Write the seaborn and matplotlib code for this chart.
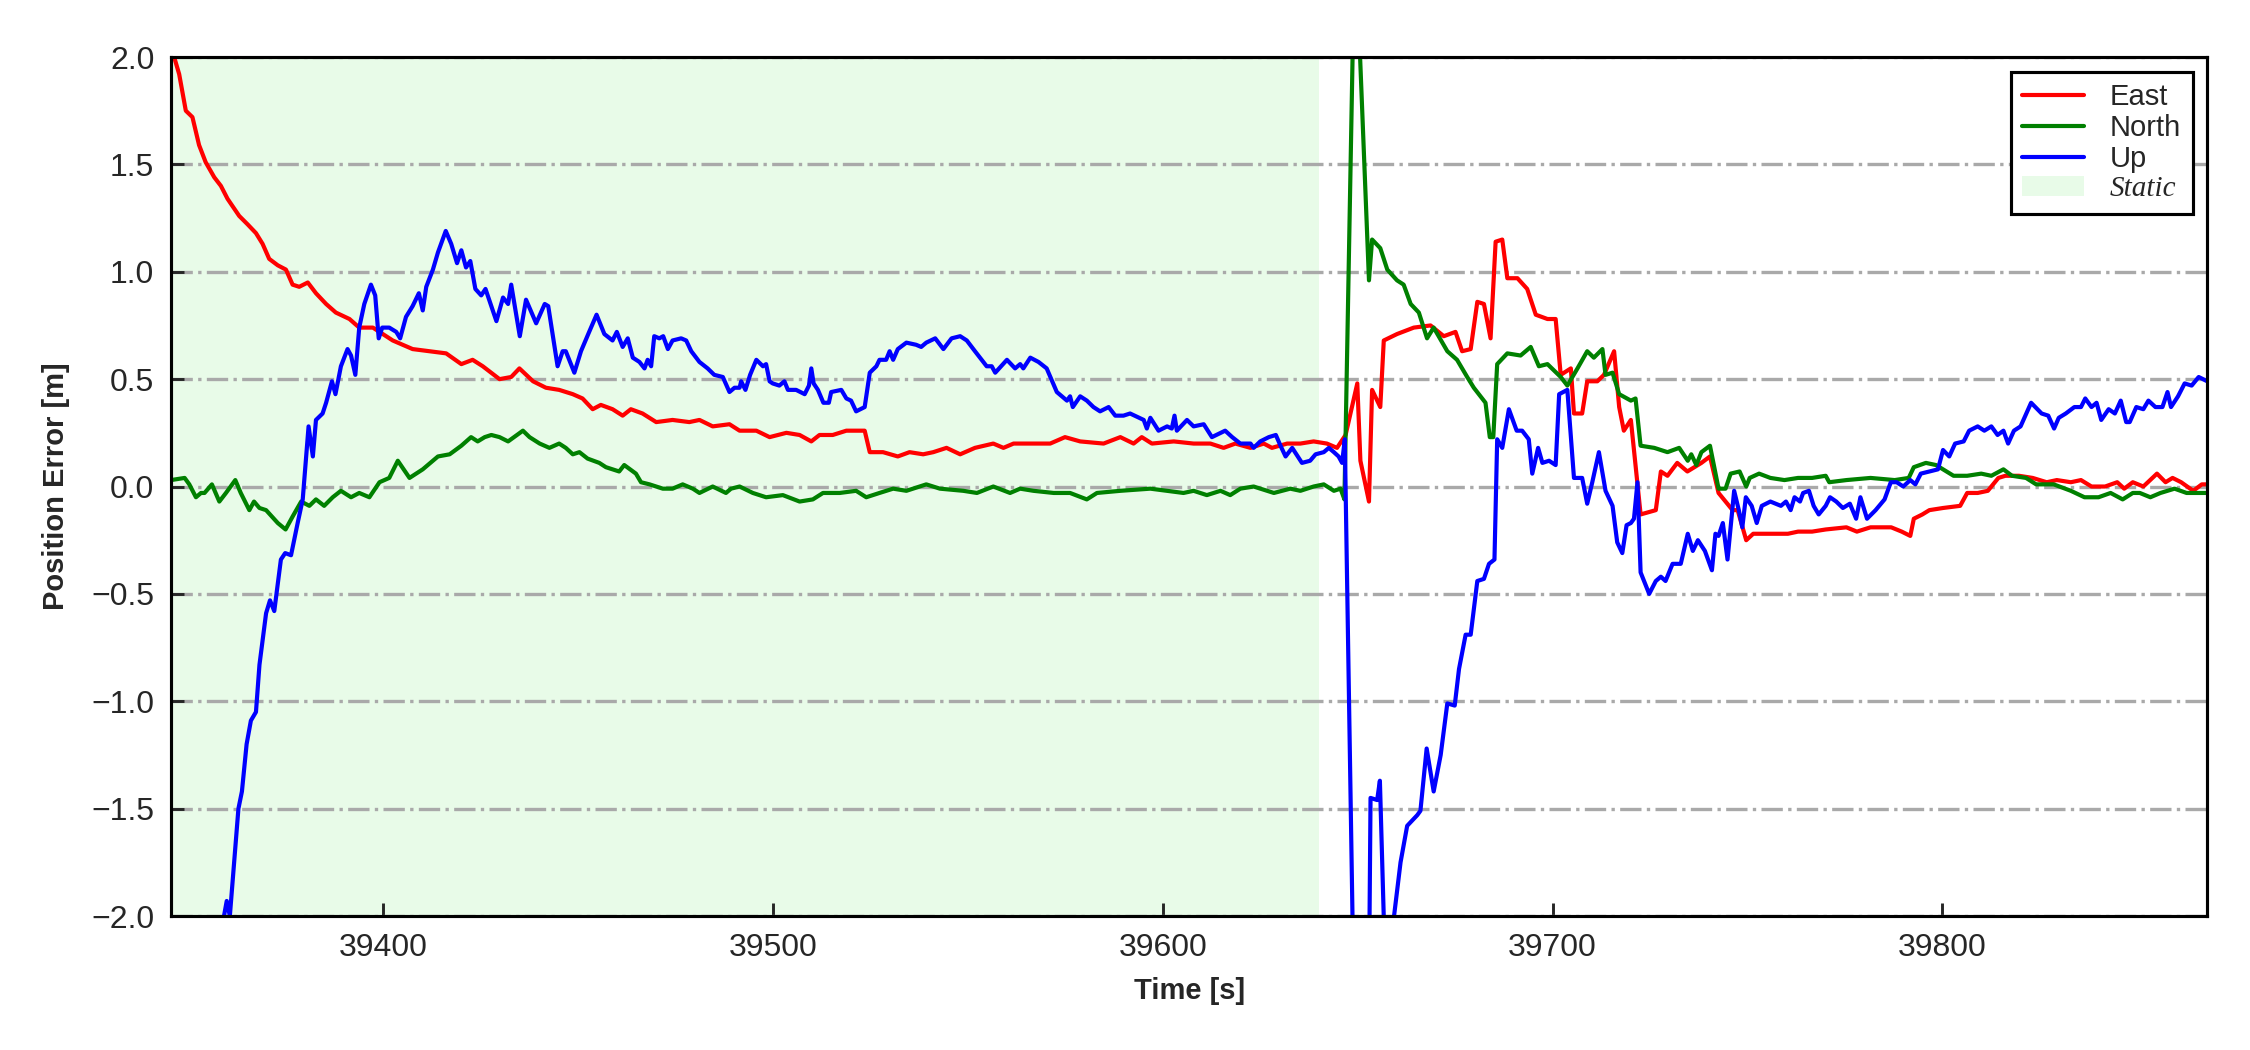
import matplotlib
matplotlib.use("Agg")
import matplotlib.pyplot as plt
import seaborn as sns
import pandas as pd

# East error
east_t = [39345.5, 39347.6, 39349.3, 39351.0, 39352.7, 39354.4, 39356.6, 39358.3, 39360.0, 39363.0,
          39365.2, 39367.3, 39369.0, 39370.7, 39372.9, 39375.0, 39376.7, 39378.4, 39380.6, 39382.7,
          39385.3, 39387.8, 39391.3, 39393.8, 39397.3, 39402.4, 39407.5, 39411.8, 39416.1, 39420.0,
          39422.9, 39425.5, 39429.8, 39432.8, 39434.9, 39438.4, 39441.7, 39445.1, 39448.6, 39451.1,
          39453.7, 39455.8, 39458.8, 39461.4, 39463.5, 39466.5, 39470.0, 39474.2, 39478.5, 39481.1,
          39484.5, 39488.8, 39491.4, 39495.7, 39499.1, 39503.4, 39506.8, 39509.8, 39511.9, 39515.3,
          39518.8, 39523.5, 39524.8, 39528.2, 39532.0, 39535.0, 39538.5, 39541.1, 39544.5, 39548.0,
          39551.8, 39556.5, 39559.1, 39561.7, 39566.8, 39571.1, 39574.9, 39578.8, 39584.8, 39589.1,
          39592.5, 39594.6, 39597.2, 39602.8, 39607.9, 39612.2, 39615.6, 39618.6, 39622.5, 39625.9,
          39628.0, 39631.9, 39635.3, 39638.7, 39642.1, 39644.7, 39646.9, 39649.9, 39650.7, 39652.9,
          39653.7, 39655.8, 39656.7, 39660.1, 39664.4, 39668.7, 39672.1, 39675.1, 39676.8, 39679.0,
          39680.7, 39682.4, 39684.1, 39685.4, 39687.1, 39688.4, 39691.0, 39693.5, 39695.7, 39698.7,
          39700.8, 39702.1, 39704.7, 39705.5, 39707.6, 39708.9, 39711.5, 39713.2, 39715.8, 39717.1,
          39718.3, 39720.1, 39722.6, 39726.5, 39727.8, 39729.5, 39732.0, 39734.6, 39738.2, 39740.4,
          39742.6, 39746.2, 39747.5, 39749.7, 39751.5, 39756.8, 39760.4, 39763.0, 39766.6, 39770.1,
          39775.4, 39778.1, 39781.6, 39786.9, 39789.6, 39791.8, 39792.7, 39794.9, 39796.7, 39800.2,
          39804.6, 39806.4, 39809.1, 39811.7, 39814.4, 39816.2, 39819.7, 39823.2, 39826.8, 39829.4,
          39833.0, 39835.6, 39838.3, 39841.8, 39844.9, 39846.7, 39848.9, 39851.6, 39855.1, 39857.3,
          39859.1, 39861.3, 39864.4, 39866.6, 39868.0]
east_v = [2.05, 1.92, 1.75, 1.72, 1.59, 1.51, 1.44, 1.40, 1.34, 1.26,
          1.22, 1.18, 1.13, 1.06, 1.03, 1.01, 0.94, 0.93, 0.95, 0.90,
          0.85, 0.81, 0.78, 0.74, 0.74, 0.68, 0.64, 0.63, 0.62, 0.57,
          0.59, 0.56, 0.50, 0.51, 0.55, 0.49, 0.46, 0.45, 0.43, 0.41,
          0.36, 0.38, 0.36, 0.33, 0.36, 0.34, 0.30, 0.31, 0.30, 0.31,
          0.28, 0.29, 0.26, 0.26, 0.23, 0.25, 0.24, 0.21, 0.24, 0.24,
          0.26, 0.26, 0.16, 0.16, 0.14, 0.16, 0.15, 0.16, 0.18, 0.15,
          0.18, 0.20, 0.18, 0.20, 0.20, 0.20, 0.23, 0.21, 0.20, 0.23,
          0.20, 0.23, 0.20, 0.21, 0.20, 0.20, 0.18, 0.20, 0.18, 0.20,
          0.18, 0.20, 0.20, 0.21, 0.20, 0.18, 0.24, 0.48, 0.12, -0.07,
          0.45, 0.37, 0.68, 0.71, 0.74, 0.75, 0.70, 0.72, 0.63, 0.64,
          0.86, 0.85, 0.69, 1.14, 1.15, 0.97, 0.97, 0.92, 0.80, 0.78,
          0.78, 0.52, 0.55, 0.34, 0.34, 0.49, 0.49, 0.52, 0.63, 0.37,
          0.26, 0.31, -0.13, -0.11, 0.07, 0.05, 0.11, 0.07, 0.11, 0.14,
          -0.03, -0.11, -0.11, -0.25, -0.22, -0.22, -0.22, -0.21, -0.21, -0.20,
          -0.19, -0.21, -0.19, -0.19, -0.21, -0.23, -0.15, -0.13, -0.11, -0.10,
          -0.09, -0.03, -0.03, -0.02, 0.04, 0.05, 0.05, 0.04, 0.02, 0.03,
          0.02, 0.03, 0.00, 0.00, 0.02, -0.01, 0.02, 0.00, 0.06, 0.02,
          0.04, 0.02, -0.02, 0.01, 0.01]

# North error
north_t = [39345.5, 39349.0, 39350.2, 39351.9, 39353.2, 39354.1, 39356.0, 39357.9, 39359.6, 39362.0,
           39363.4, 39365.6, 39366.8, 39368.2, 39369.9, 39372.9, 39374.9, 39376.7, 39378.9, 39381.0,
           39382.7, 39384.8, 39387.0, 39389.1, 39391.7, 39393.8, 39396.4, 39399.0, 39401.5, 39403.7,
           39406.7, 39410.1, 39414.0, 39417.0, 39420.0, 39422.5, 39424.2, 39426.0, 39427.7, 39429.8,
           39432.0, 39435.8, 39437.5, 39440.1, 39442.6, 39445.1, 39446.8, 39448.6, 39450.3, 39452.4,
           39455.4, 39457.1, 39460.5, 39461.8, 39464.8, 39466.1, 39468.3, 39471.7, 39474.2, 39476.8,
           39479.4, 39481.1, 39484.5, 39487.9, 39489.2, 39491.4, 39494.8, 39498.2, 39502.5, 39506.8,
           39510.2, 39512.8, 39517.1, 39521.3, 39523.9, 39527.3, 39530.8, 39534.2, 39539.3, 39542.8,
           39548.8, 39552.3, 39556.5, 39560.8, 39563.4, 39566.8, 39572.0, 39576.2, 39580.5, 39583.1,
           39589.1, 39596.8, 39601.1, 39605.3, 39607.9, 39611.3, 39614.8, 39617.3, 39619.9, 39623.3,
           39628.5, 39632.7, 39635.3, 39638.7, 39641.3, 39643.9, 39645.6, 39646.6, 39649.3, 39652.9,
           39653.7, 39655.8, 39657.6, 39660.1, 39661.8, 39663.6, 39665.7, 39667.8, 39669.5, 39673.0,
           39675.5, 39678.1, 39679.8, 39682.8, 39683.9, 39684.8, 39685.8, 39688.4, 39691.8, 39694.4,
           39696.5, 39698.7, 39702.1, 39703.8, 39706.4, 39708.9, 39710.6, 39712.8, 39713.6, 39715.4,
           39717.1, 39720.1, 39721.3, 39722.6, 39726.1, 39729.5, 39732.5, 39734.7, 39735.6, 39736.9,
           39738.2, 39740.4, 39742.6, 39744.4, 39745.7, 39748.0, 39749.7, 39750.6, 39753.0, 39755.9,
           39759.5, 39763.0, 39766.6, 39770.1, 39771.0, 39775.4, 39781.6, 39787.8, 39791.4, 39792.7,
           39795.8, 39798.4, 39801.1, 39802.9, 39806.4, 39810.0, 39812.6, 39815.7, 39817.9, 39821.5,
           39824.1, 39828.6, 39833.0, 39836.5, 39840.1, 39843.2, 39846.3, 39848.9, 39850.7, 39853.4,
           39856.0, 39859.6, 39862.7, 39864.9, 39868.0]
north_v = [0.03, 0.04, 0.01, -0.05, -0.03, -0.03, 0.01, -0.07, -0.03, 0.03,
           -0.03, -0.11, -0.07, -0.10, -0.11, -0.17, -0.20, -0.14, -0.07, -0.09,
           -0.06, -0.09, -0.05, -0.02, -0.05, -0.03, -0.05, 0.02, 0.04, 0.12,
           0.04, 0.08, 0.14, 0.15, 0.19, 0.23, 0.21, 0.23, 0.24, 0.23,
           0.21, 0.26, 0.23, 0.20, 0.18, 0.20, 0.18, 0.15, 0.16, 0.13,
           0.11, 0.09, 0.07, 0.10, 0.06, 0.02, 0.01, -0.01, -0.01, 0.01,
           -0.01, -0.03, 0.00, -0.03, -0.01, 0.00, -0.03, -0.05, -0.04, -0.07,
           -0.06, -0.03, -0.03, -0.02, -0.05, -0.03, -0.01, -0.02, 0.01, -0.01,
           -0.02, -0.03, 0.00, -0.03, -0.01, -0.02, -0.03, -0.03, -0.06, -0.03,
           -0.02, -0.01, -0.02, -0.03, -0.02, -0.04, -0.02, -0.04, -0.01, 0.00,
           -0.03, -0.01, -0.02, 0.00, 0.01, -0.02, -0.01, -0.06, 2.60, 0.96,
           1.15, 1.11, 1.01, 0.96, 0.94, 0.85, 0.81, 0.69, 0.74, 0.63,
           0.59, 0.51, 0.46, 0.39, 0.23, 0.23, 0.57, 0.62, 0.61, 0.65,
           0.56, 0.57, 0.51, 0.47, 0.55, 0.63, 0.60, 0.64, 0.52, 0.53,
           0.43, 0.40, 0.41, 0.19, 0.18, 0.16, 0.18, 0.12, 0.15, 0.10,
           0.16, 0.19, -0.01, -0.01, 0.06, 0.07, 0.00, 0.04, 0.06, 0.04,
           0.03, 0.04, 0.04, 0.05, 0.02, 0.03, 0.04, 0.03, 0.04, 0.09,
           0.11, 0.10, 0.07, 0.05, 0.05, 0.06, 0.05, 0.08, 0.05, 0.04,
           0.01, 0.01, -0.02, -0.05, -0.05, -0.03, -0.06, -0.03, -0.03, -0.05,
           -0.03, -0.01, -0.03, -0.03, -0.03]

# Up error
up_t = [39345.5, 39353.0, 39357.5, 39358.7, 39359.8, 39360.6, 39361.7, 39362.8, 39363.7, 39364.9,
        39366.0, 39367.3, 39368.2, 39369.9, 39370.9, 39372.0, 39373.7, 39374.8, 39376.3, 39378.0,
        39379.3, 39380.8, 39381.9, 39382.7, 39384.4, 39385.3, 39386.8, 39387.7, 39389.1, 39390.8,
        39391.7, 39392.8, 39393.8, 39395.1, 39396.8, 39397.9, 39398.8, 39399.7, 39401.5, 39403.3,
        39404.3, 39405.8, 39407.5, 39409.1, 39410.1, 39411.0, 39412.7, 39414.0, 39416.0, 39417.4,
        39418.9, 39420.0, 39421.2, 39422.3, 39423.6, 39425.1, 39426.2, 39427.7, 39429.0, 39430.7,
        39432.0, 39432.8, 39435.0, 39436.6, 39439.2, 39441.4, 39442.3, 39444.7, 39446.0, 39446.8,
        39449.0, 39450.7, 39452.8, 39454.7, 39456.7, 39458.8, 39459.9, 39461.4, 39462.7, 39464.0,
        39465.7, 39467.0, 39467.8, 39468.7, 39469.5, 39470.8, 39471.8, 39473.0, 39474.2, 39476.4,
        39477.7, 39479.0, 39481.1, 39483.2, 39484.9, 39487.1, 39488.8, 39490.1, 39491.4, 39491.8,
        39492.9, 39494.1, 39495.7, 39497.4, 39498.2, 39499.1, 39499.9, 39501.6, 39502.9, 39503.8,
        39505.9, 39508.1, 39509.2, 39509.8, 39510.4, 39511.5, 39512.9, 39514.3, 39514.9, 39517.5,
        39518.8, 39520.0, 39521.3, 39523.5, 39524.8, 39526.5, 39527.3, 39529.0, 39529.9, 39530.8,
        39532.0, 39534.2, 39536.7, 39538.0, 39539.3, 39541.6, 39543.7, 39545.8, 39548.0, 39549.7,
        39551.8, 39554.8, 39556.1, 39557.0, 39560.0, 39562.1, 39563.4, 39564.2, 39566.0, 39568.1,
        39570.2, 39572.8, 39575.4, 39576.2, 39576.9, 39578.8, 39580.5, 39582.2, 39583.9, 39586.1,
        39587.8, 39589.9, 39591.6, 39595.1, 39595.9, 39596.8, 39598.9, 39601.1, 39602.3, 39603.0,
        39603.6, 39606.2, 39607.9, 39610.5, 39612.6, 39616.0, 39617.8, 39619.9, 39622.5, 39623.3,
        39625.0, 39627.2, 39629.0, 39630.2, 39631.5, 39633.2, 39635.7, 39637.8, 39639.2, 39641.3,
        39642.6, 39643.9, 39645.1, 39646.0, 39646.7, 39650.0, 39652.5, 39653.3, 39655.0, 39655.7,
        39657.0, 39658.0, 39661.0, 39662.7, 39665.3, 39666.1, 39667.7, 39669.5, 39671.3, 39673.0,
        39674.9, 39676.0, 39677.7, 39679.0, 39680.7, 39682.4, 39683.7, 39685.1, 39685.8, 39687.1,
        39688.8, 39690.8, 39692.2, 39693.9, 39694.8, 39696.3, 39697.4, 39699.1, 39700.8, 39701.7,
        39703.8, 39705.5, 39707.6, 39708.9, 39710.2, 39711.9, 39713.6, 39715.4, 39716.6, 39717.9,
        39719.0, 39720.1, 39720.9, 39721.8, 39722.6, 39724.8, 39726.5, 39727.8, 39729.0, 39730.8,
        39732.9, 39734.7, 39736.0, 39737.3, 39739.1, 39740.9, 39741.8, 39742.6, 39743.7, 39744.9,
        39746.6, 39747.8, 39748.7, 39749.6, 39751.1, 39752.4, 39753.7, 39755.9, 39758.6, 39759.9,
        39761.1, 39762.1, 39763.5, 39764.3, 39765.8, 39767.0, 39768.3, 39770.1, 39771.2, 39772.8,
        39774.5, 39776.3, 39777.9, 39779.0, 39780.7, 39782.9, 39785.2, 39786.8, 39788.3, 39790.0,
        39791.8, 39793.1, 39794.5, 39796.7, 39798.9, 39800.2, 39801.8, 39803.3, 39805.5, 39806.9,
        39809.1, 39810.8, 39812.6, 39814.2, 39815.7, 39816.9, 39818.4, 39820.1, 39822.8, 39825.5,
        39827.2, 39828.7, 39829.9, 39831.7, 39833.9, 39835.6, 39836.7, 39838.3, 39839.6, 39840.8,
        39842.7, 39844.3, 39845.8, 39847.2, 39848.1, 39849.8, 39851.6, 39852.9, 39854.7, 39856.5,
        39857.8, 39858.7, 39860.5, 39862.2, 39864.0, 39865.8, 39868.0]
up_v = [-3.20, -2.60, -2.15, -2.04, -1.93, -2.00, -1.75, -1.50, -1.42, -1.20,
        -1.09, -1.05, -0.83, -0.59, -0.53, -0.58, -0.34, -0.31, -0.32, -0.17,
        -0.06, 0.28, 0.14, 0.31, 0.34, 0.39, 0.49, 0.43, 0.56, 0.64,
        0.61, 0.52, 0.74, 0.85, 0.94, 0.89, 0.69, 0.74, 0.74, 0.72,
        0.69, 0.79, 0.84, 0.90, 0.82, 0.93, 1.01, 1.09, 1.19, 1.13,
        1.04, 1.10, 1.02, 1.05, 0.92, 0.89, 0.92, 0.84, 0.77, 0.88,
        0.85, 0.94, 0.70, 0.87, 0.76, 0.85, 0.84, 0.56, 0.63, 0.63,
        0.53, 0.63, 0.72, 0.80, 0.71, 0.68, 0.72, 0.65, 0.69, 0.60,
        0.58, 0.55, 0.59, 0.56, 0.70, 0.69, 0.70, 0.64, 0.68, 0.69,
        0.68, 0.63, 0.58, 0.55, 0.52, 0.51, 0.44, 0.46, 0.46, 0.49,
        0.45, 0.52, 0.59, 0.56, 0.57, 0.49, 0.48, 0.47, 0.49, 0.45,
        0.45, 0.43, 0.47, 0.55, 0.48, 0.45, 0.39, 0.39, 0.44, 0.45,
        0.41, 0.40, 0.35, 0.37, 0.53, 0.56, 0.59, 0.59, 0.63, 0.59,
        0.64, 0.67, 0.66, 0.65, 0.67, 0.69, 0.64, 0.69, 0.70, 0.68,
        0.63, 0.56, 0.56, 0.53, 0.59, 0.55, 0.57, 0.55, 0.60, 0.58,
        0.55, 0.44, 0.40, 0.42, 0.37, 0.42, 0.40, 0.37, 0.35, 0.37,
        0.33, 0.33, 0.34, 0.31, 0.27, 0.32, 0.26, 0.28, 0.27, 0.33,
        0.26, 0.31, 0.28, 0.29, 0.23, 0.26, 0.23, 0.20, 0.20, 0.18,
        0.21, 0.23, 0.24, 0.19, 0.14, 0.18, 0.11, 0.12, 0.15, 0.16,
        0.18, 0.16, 0.14, 0.11, 0.22, -3.50, -3.20, -1.45, -1.46, -1.37,
        -2.20, -2.20, -1.75, -1.58, -1.53, -1.51, -1.22, -1.42, -1.25, -1.01,
        -1.02, -0.85, -0.69, -0.69, -0.44, -0.43, -0.36, -0.34, 0.22, 0.18,
        0.36, 0.26, 0.26, 0.22, 0.06, 0.18, 0.11, 0.12, 0.10, 0.43,
        0.45, 0.04, 0.04, -0.08, 0.02, 0.16, -0.02, -0.09, -0.26, -0.31,
        -0.18, -0.17, -0.15, 0.02, -0.40, -0.50, -0.44, -0.42, -0.44, -0.36,
        -0.36, -0.22, -0.30, -0.25, -0.30, -0.39, -0.22, -0.23, -0.17, -0.34,
        -0.02, -0.11, -0.19, -0.05, -0.09, -0.17, -0.09, -0.07, -0.09, -0.07,
        -0.11, -0.05, -0.07, -0.03, -0.02, -0.09, -0.13, -0.09, -0.05, -0.07,
        -0.10, -0.08, -0.15, -0.05, -0.15, -0.11, -0.06, 0.02, 0.02, 0.00,
        0.03, 0.01, 0.06, 0.07, 0.08, 0.17, 0.14, 0.20, 0.21, 0.26,
        0.28, 0.26, 0.28, 0.24, 0.26, 0.20, 0.26, 0.28, 0.39, 0.34,
        0.33, 0.27, 0.32, 0.34, 0.37, 0.37, 0.41, 0.37, 0.39, 0.31,
        0.36, 0.34, 0.40, 0.30, 0.30, 0.37, 0.36, 0.40, 0.37, 0.37,
        0.44, 0.37, 0.42, 0.48, 0.47, 0.51, 0.49]

components = ['East', 'North', 'Up']
colors = {'East': 'red', 'North': 'green', 'Up': 'blue'}
static_start = 39345.5
static_end = 39640.0

df = pd.concat([
    pd.DataFrame({'time': east_t, 'error': east_v, 'component': 'East'}),
    pd.DataFrame({'time': north_t, 'error': north_v, 'component': 'North'}),
    pd.DataFrame({'time': up_t, 'error': up_v, 'component': 'Up'}),
], ignore_index=True)

sns.set_style('white')
plt.rcParams['font.family'] = ['Liberation Sans', 'DejaVu Sans']

fig, ax = plt.subplots(figsize=(7.5, 3.5), dpi=300)
fig.subplots_adjust(left=0.076, right=0.981, top=0.9457, bottom=0.1276)

sns.lineplot(data=df, x='time', y='error', hue='component', hue_order=components,
             palette=colors, estimator=None, sort=False, linewidth=1.0,
             legend=False, ax=ax)
span = ax.axvspan(static_start, static_end, color='lightgreen', alpha=0.2, lw=0, zorder=0)

ax.set_xlim(39345.5, 39868)
ax.set_ylim(-2, 2)
ax.set_yticks([-2, -1.5, -1, -0.5, 0, 0.5, 1, 1.5, 2])
ax.set_xticks([39400, 39500, 39600, 39700, 39800])
ax.yaxis.grid(True, linestyle='-.', color='darkgray', linewidth=0.8)
ax.xaxis.grid(False)
ax.tick_params(direction='in', length=3.2, width=0.7, labelsize=7.7, pad=4,
               bottom=True, left=True, top=False, right=False)
for s in ax.spines.values():
    s.set_color('black')
    s.set_linewidth(0.75)

ax.set_xlabel('Time [s]', fontsize=7, fontweight='bold', labelpad=3.5)
ax.set_ylabel('Position Error [m]', fontsize=7, fontweight='bold', labelpad=5)

leg = ax.legend(ax.lines[:3] + [span], components + ['Static'], loc='upper right',
                fontsize=7, frameon=True, fancybox=False, edgecolor='black', framealpha=1,
                labelspacing=0.1, handlelength=2.1, handletextpad=0.9, borderpad=0.4,
                borderaxespad=0.5)
leg.get_frame().set_linewidth(0.75)
leg.get_texts()[3].set_fontfamily('Liberation Serif')
leg.get_texts()[3].set_fontstyle('italic')

fig.savefig('out.png', dpi=300)
